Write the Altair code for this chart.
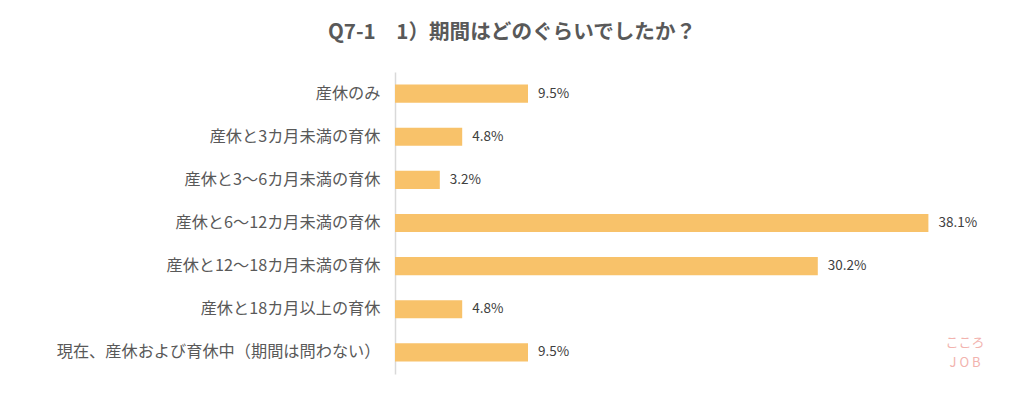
import altair as alt
import pandas as pd

categories = [
    "産休のみ",
    "産休と3カ月未満の育休",
    "産休と3〜6カ月未満の育休",
    "産休と6〜12カ月未満の育休",
    "産休と12〜18カ月未満の育休",
    "産休と18カ月以上の育休",
    "現在、産休および育休中（期間は問わない）",
]
values = [9.5, 4.8, 3.2, 38.1, 30.2, 4.8, 9.5]
labels = ["9.5%", "4.8%", "3.2%", "38.1%", "30.2%", "4.8%", "9.5%"]

df = pd.DataFrame({"cat": categories, "val": values, "lab": labels})

FONT = "Noto Sans CJK JP"

y_enc = alt.Y(
    "cat:N",
    sort=categories,
    title=None,
    scale=alt.Scale(paddingInner=0.58, paddingOuter=0.29),
    axis=alt.Axis(
        domainColor="#d9d9d9",
        domainWidth=1.5,
        ticks=False,
        labelFont=FONT,
        labelFontSize=16.2,
        labelColor="#595959",
        labelPadding=15,
        labelLimit=500,
    ),
)
x_enc = alt.X("val:Q", scale=alt.Scale(domain=[0, 40]), axis=None)

bars = alt.Chart(df).mark_bar(color="#F8C26A").encode(x=x_enc, y=y_enc)
text = alt.Chart(df).mark_text(
    align="left", dx=10, font=FONT, fontSize=13.5, color="#404040"
).encode(x=x_enc, y=alt.Y("cat:N", sort=categories), text="lab:N")

logo_df = pd.DataFrame({"t": ["こころ", "J O B"], "yy": [271, 291]})
logo = alt.Chart(logo_df).mark_text(
    font=FONT, fontSize=13, color="#F2B3AE", align="center", baseline="middle"
).encode(text="t:N", x=alt.value(570), y=alt.Y("yy:Q", scale=None))

chart = (
    alt.layer(bars, text, logo)
    .properties(
        width=560,
        height=302,
        autosize=alt.AutoSizeParams(type="none"),
        padding={"left": 387, "top": 64, "right": 61, "bottom": 20},
        title=alt.TitleParams(
            "Q7-1　1）期間はどのぐらいでしたか？",
            font=FONT,
            fontSize=20.6,
            fontWeight="bold",
            color="#595959",
            anchor="middle",
            dx=-163,
            offset=28,
        ),
    )
    .configure_view(stroke=None)
)

chart.save("out.html", embed_options={"renderer": "svg", "actions": False})
